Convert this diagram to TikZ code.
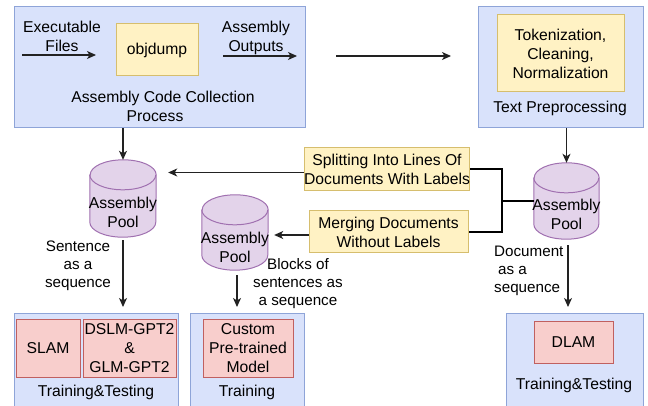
\documentclass[tikz,border=0pt]{standalone}
\usepackage{fontspec}
\setmainfont{Liberation Sans}
\usetikzlibrary{arrows.meta}
\definecolor{bfill}{HTML}{D9E2FB}
\definecolor{bdraw}{HTML}{8EA4D8}
\definecolor{yfill}{HTML}{FFF2C4}
\definecolor{ydraw}{HTML}{D6BE6E}
\definecolor{pfill}{HTML}{F8CECC}
\definecolor{pdraw}{HTML}{C06060}
\definecolor{cfill}{HTML}{E3D3EA}
\definecolor{cdraw}{HTML}{A070B0}
\definecolor{arr}{HTML}{222222}
\tikzset{
  every node/.style={font=\fontsize{15.7}{19}\selectfont, inner sep=0pt},
  bluebox/.style={draw=bdraw, fill=bfill, line width=1pt},
  yelbox/.style={draw=ydraw, fill=yfill, line width=1pt, align=center},
  pinkbox/.style={draw=pdraw, fill=pfill, line width=1pt, align=center},
  cylst/.style={draw=cdraw, fill=cfill, line width=1pt},
  lbl/.style={align=center, font=\fontsize{15.2}{18}\selectfont},
  arrow/.style={draw=arr, line width=1.2pt, -{Stealth[length=9pt,width=8pt,inset=2.5pt]}},
  bracket/.style={draw=black, line width=2pt},
}
\newcommand{\drawcyl}[2]{%
  \path[cylst] ([yshift=-15pt]#1.north west) -- ([yshift=15pt]#1.south west)
     arc[start angle=180,end angle=360,x radius=#2,y radius=15pt]
     -- ([yshift=-15pt]#1.north east)
     arc[start angle=0,end angle=180,x radius=#2,y radius=15pt] -- cycle;
  \draw[draw=cdraw, line width=1pt] ([yshift=-15pt]#1.north west)
     arc[start angle=180,end angle=360,x radius=#2,y radius=15pt];
}
\begin{document}
\begin{tikzpicture}[x=1pt,y=1pt]
\useasboundingbox (0,0) rectangle (648,-406);

% top left box
\node[bluebox, minimum width=291pt, minimum height=121pt] (boxA) at (159.5,-67.5) {};
\node[yelbox, minimum width=82pt, minimum height=52pt] (obj) at (157,-50) {objdump};
\node[align=center] (exe) at (62,-36) {Executable\\Files};
\coordinate (e1) at (22,-55);
\coordinate (e2) at (96,-55);
\draw[arrow] (e1) -- (e2);
\node[align=center] (aout) at (256,-38) {Assembly\\Outputs};
\coordinate (o1) at (223,-56);
\coordinate (o2) at (297,-56);
\draw[arrow] (o1) -- (o2);
\node[align=center] (acc) at (163,-106) {Assembly Code Collection\\Process\hspace*{16pt}};

% long arrow
\coordinate (l1) at (336,-56);
\coordinate (l2) at (451,-56);
\draw[arrow] (l1) -- (l2);

% top right box
\node[bluebox, minimum width=165pt, minimum height=121pt] (boxB) at (560.5,-67.5) {};
\node[yelbox, minimum width=127pt, minimum height=77pt] (tok) at (560.5,-53.5) {Tokenization,\\Cleaning,\\Normalization};
\node (tp) at (560,-108) {Text Preprocessing};

% cylinders
\node[minimum width=66pt, minimum height=77pt] (c1) at (123,-198.5) {};
\drawcyl{c1}{33pt}
\node[align=center] at (123,-212) {Assembly\\Pool};
\node[minimum width=66pt, minimum height=75pt] (c2) at (235,-232.5) {};
\drawcyl{c2}{33pt}
\node[align=center] at (235,-247) {Assembly\\Pool};
\node[minimum width=65pt, minimum height=76pt] (c3) at (566.5,-201) {};
\drawcyl{c3}{32.5pt}
\node[align=center] at (566.5,-214.5) {Assembly\\Pool};

% middle boxes
\node[yelbox, minimum width=162pt, minimum height=43pt] (split) at (387,-169.5) {Splitting Into Lines Of\\Documents With Labels};
\node[yelbox, minimum width=159pt, minimum height=42pt] (merge) at (388.5,-232) {Merging Documents\\Without Labels};

% bracket connectors
\coordinate (j) at (502,-201);
\draw[bracket] (split.east) -| (j) |- (merge.east);
\draw[bracket] (j) -- (c3.west);

% arrows into pools
\draw[arrow] (c1.north |- boxA.south) -- (c1.north);
\draw[arrow] (c3.north |- boxB.south) -- (c3.north);
\draw[arrow, shorten >=12pt] ([yshift=-3pt]split.west) -- ([yshift=-3pt]split.west -| c1.east);
\draw[arrow, shorten >=6pt] ([yshift=-3pt]merge.west) -- ([yshift=-3pt]merge.west -| c2.east);

% bottom boxes
\node[bluebox, minimum width=164pt, minimum height=100pt, anchor=north] (t1) at (96,-313) {};
\node[pinkbox, minimum width=64pt, minimum height=58pt] (slam) at (48,-348) {SLAM};
\node[pinkbox, minimum width=93pt, minimum height=58pt] (dslm) at (129.5,-348) {DSLM-GPT2\\\&\\GLM-GPT2};
\node (tt1) at (96,-392) {Training\&Testing};

\node[bluebox, minimum width=114pt, minimum height=100pt, anchor=north] (t2) at (247,-313) {};
\node[pinkbox, minimum width=90pt, minimum height=58pt] (cust) at (248,-348) {Custom\\Pre-trained\\Model};
\node (tt2) at (247,-392) {Training};

\node[bluebox, minimum width=137pt, minimum height=100pt, anchor=north] (t3) at (574.5,-313) {};
\node[pinkbox, minimum width=79pt, minimum height=42pt] (dlam) at (573.5,-342) {DLAM};
\node (tt3) at (574,-385) {Training\&Testing};

% arrows down
\draw[arrow, shorten <=3pt, shorten >=6pt] (c1.south) -- (c1.south |- t1.north);
\draw[arrow, shorten <=5pt, shorten >=6pt] ([xshift=2pt]c2.south) -- ([xshift=2pt]c2.south |- t2.north);
\draw[arrow, shorten <=6pt, shorten >=6pt] ([xshift=1.5pt]c3.south) -- ([xshift=1.5pt]c3.south |- t3.north);

% labels
\node[lbl] (l1t) at (78,-266) {Sentence\\as a\\sequence};
\node[lbl] (l2t) at (298,-283.5) {Blocks of\\sentences as\\a sequence};
\node[lbl, align=left, anchor=west] (l3t) at (494,-271) {Document\\\hspace*{4pt}as a\\sequence};
\end{tikzpicture}
\end{document}
